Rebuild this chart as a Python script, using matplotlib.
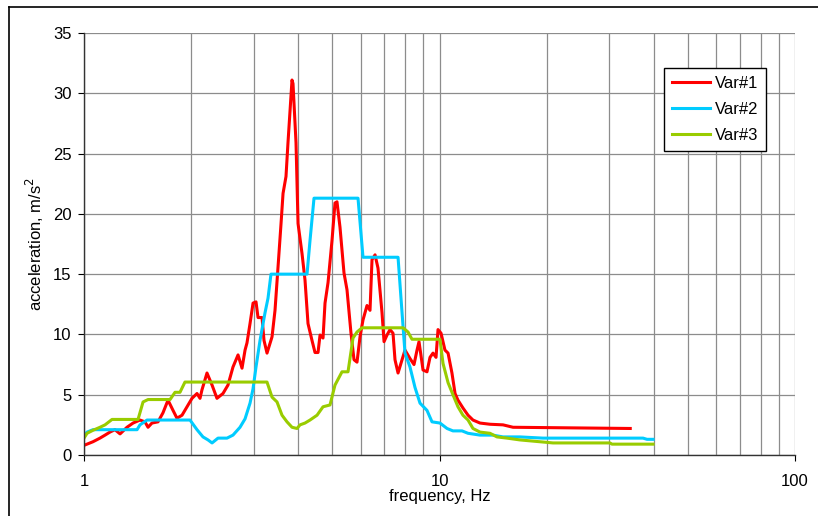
import numpy as np
import matplotlib
matplotlib.use("Agg")
import matplotlib.pyplot as plt
from matplotlib.lines import Line2D
from matplotlib.ticker import FixedLocator, NullFormatter

plt.rcParams['font.family'] = ['Liberation Sans', 'DejaVu Sans']

# ---------------- data ----------------
f1 = [1.0, 1.06, 1.109, 1.146, 1.183, 1.222, 1.263, 1.321, 1.374, 1.437, 1.484, 1.514,
      1.553, 1.615, 1.668, 1.723, 1.78, 1.826, 1.887, 1.949, 2.013, 2.079, 2.12, 2.147,
      2.218, 2.292, 2.366, 2.46, 2.541, 2.625, 2.712, 2.783, 2.838, 2.874, 2.931, 2.989,
      3.047, 3.087, 3.168, 3.209, 3.272, 3.38, 3.446, 3.514, 3.583, 3.63, 3.7, 3.748,
      3.847, 3.872, 3.948, 4.0, 4.105, 4.185, 4.267, 4.379, 4.465, 4.553, 4.613, 4.703,
      4.764, 4.858, 4.985, 5.082, 5.148, 5.249, 5.387, 5.493, 5.637, 5.748, 5.861, 5.976,
      6.093, 6.253, 6.376, 6.459, 6.587, 6.714, 6.891, 6.982, 7.118, 7.258, 7.4, 7.496,
      7.645, 7.846, 7.998, 8.26, 8.478, 8.645, 8.757, 8.988, 9.222, 9.404, 9.588, 9.777,
      9.904, 10.1, 10.36, 10.57, 10.84, 11.06, 11.27, 11.64, 12.03, 12.42, 13.0, 13.87,
      15.09, 16.1, 34.4]
v1 = [0.8, 1.1, 1.4, 1.65, 1.9, 2.1, 1.75, 2.3, 2.65, 2.9, 2.75, 2.3,
      2.65, 2.75, 3.5, 4.55, 3.7, 3.05, 3.3, 4.0, 4.7, 5.1, 4.7, 5.4,
      6.8, 5.8, 4.7, 5.1, 5.8, 7.3, 8.3, 7.2, 8.7, 9.3, 10.9, 12.6,
      12.7, 11.4, 11.4, 9.5, 8.45, 9.8, 12.0, 15.6, 19.2, 21.7, 23.1, 25.9,
      31.1, 30.8, 25.9, 19.2, 16.7, 14.5, 10.9, 9.5, 8.5, 8.5, 9.95, 9.7,
      12.6, 14.3, 17.8, 20.9, 21.0, 18.9, 15.1, 13.7, 10.1, 7.9, 7.7, 9.8,
      11.2, 12.4, 12.0, 16.2, 16.6, 15.5, 11.8, 9.4, 9.95, 10.4, 10.1, 7.9,
      6.8, 7.9, 8.7, 8.0, 7.5, 8.7, 9.4, 7.05, 6.9, 8.1, 8.45, 8.1,
      10.4, 10.1, 8.7, 8.45, 6.8, 5.1, 4.55, 3.9, 3.3, 2.9, 2.65, 2.55,
      2.5, 2.3, 2.2]

f2 = [1.0, 1.02, 1.06, 1.41, 1.437, 1.504, 1.987, 2.079, 2.161, 2.233, 2.292, 2.382,
      2.525, 2.625, 2.747, 2.838, 2.931, 2.989, 3.047, 3.127, 3.23, 3.293, 3.357, 4.24,
      4.323, 4.436, 5.899, 6.093, 7.645, 7.846, 7.998, 8.26, 8.533, 8.814, 9.222, 9.526,
      10.03, 10.5, 10.91, 11.57, 12.03, 13.0, 14.14, 15.09, 16.84, 19.55, 37.37, 38.35,
      39.87]
v2 = [1.6, 1.9, 2.1, 2.1, 2.5, 2.9, 2.9, 2.1, 1.5, 1.25, 1.0, 1.4,
      1.4, 1.65, 2.3, 3.0, 4.3, 5.5, 7.3, 9.5, 11.8, 13.0, 15.0, 15.0,
      17.8, 21.3, 21.3, 16.4, 16.4, 11.8, 8.45, 7.3, 5.6, 4.3, 3.7, 2.75,
      2.65, 2.2, 2.0, 2.0, 1.8, 1.65, 1.65, 1.5, 1.5, 1.4, 1.4, 1.3,
      1.3]

f3 = [1.0, 1.02, 1.06, 1.109, 1.146, 1.199, 1.419, 1.466, 1.514, 1.746, 1.803, 1.862,
      1.923, 3.272, 3.38, 3.491, 3.606, 3.724, 3.847, 3.974, 4.052, 4.185, 4.323, 4.524,
      4.703, 4.92, 5.082, 5.318, 5.529, 5.711, 5.861, 6.053, 7.897, 8.155, 8.368, 10.03,
      10.23, 10.57, 10.91, 11.27, 11.64, 12.03, 12.42, 13.0, 13.87, 14.51, 15.48, 16.84,
      20.86, 30.17, 30.56, 39.87]
v3 = [1.4, 1.8, 2.05, 2.3, 2.5, 2.95, 2.95, 4.4, 4.6, 4.6, 5.2, 5.2,
      6.05, 6.05, 4.8, 4.4, 3.3, 2.75, 2.3, 2.2, 2.5, 2.65, 2.9, 3.3,
      4.0, 4.15, 5.8, 6.9, 6.9, 9.7, 10.2, 10.55, 10.55, 10.2, 9.6, 9.6,
      7.6, 6.0, 5.0, 4.0, 3.3, 2.9, 2.2, 1.9, 1.8, 1.5, 1.4, 1.25,
      1.0, 1.0, 0.9, 0.9]

labels = ["Var#1", "Var#2", "Var#3"]
colors = ["#FF0000", "#00CCFF", "#99CC00"]

# ---------------- figure ----------------
fig = plt.figure(figsize=(8.18, 5.16), dpi=100)
ax = fig.add_axes([84/818, 1-455/516, 711/818, 422/516])

for f, v, lab, c in zip([f1, f2, f3], [v1, v2, v3], labels, colors):
    ax.plot(f, v, color=c, lw=2.2, label=lab, solid_joinstyle='round')

ax.set_xscale('log')
ax.set_xlim(1, 100)
ax.set_ylim(0, 35)
ax.set_yticks(np.arange(0, 36, 5))
ax.xaxis.set_major_locator(FixedLocator([1, 10, 100]))
ax.set_xticklabels(["1", "10", "100"])
minors = [m * d for d in (1, 10) for m in range(2, 10)]
ax.xaxis.set_minor_locator(FixedLocator(minors))
ax.xaxis.set_minor_formatter(NullFormatter())

ax.grid(True, which='both', color='#8c8c8c', lw=0.9)
ax.set_axisbelow(True)
for s in ('top', 'right'):
    ax.spines[s].set_visible(False)
for s in ('left', 'bottom'):
    ax.spines[s].set_color('#333333')
    ax.spines[s].set_linewidth(1.0)

ax.tick_params(axis='y', which='major', direction='out', length=4, width=0.8,
               labelsize=12, pad=5)
ax.tick_params(axis='x', which='major', direction='out', length=4, width=0.8,
               labelsize=12, pad=10)
ax.tick_params(axis='x', which='minor', length=0)

ax.set_xlabel("frequency, Hz", fontsize=12, labelpad=0)
ax.set_ylabel("acceleration, m/s$^2$", fontsize=12, labelpad=5)

leg = ax.legend(loc='upper left', bbox_to_anchor=(664/818, 1-68/516),
                bbox_transform=fig.transFigure, fontsize=12, frameon=True,
                fancybox=False, edgecolor='black', framealpha=1,
                borderpad=0.45, labelspacing=0.68, handlelength=2.3,
                handletextpad=0.3, borderaxespad=0)
leg.get_frame().set_linewidth(1.0)

# outer chart border
fig.add_artist(Line2D([8.5/818, 8.5/818], [0, 1-6.5/516], transform=fig.transFigure,
                      color='black', lw=1.2))
fig.add_artist(Line2D([8.5/818, 1], [1-6.5/516, 1-6.5/516], transform=fig.transFigure,
                      color='black', lw=1.2))

fig.savefig("out.png", dpi=100)
